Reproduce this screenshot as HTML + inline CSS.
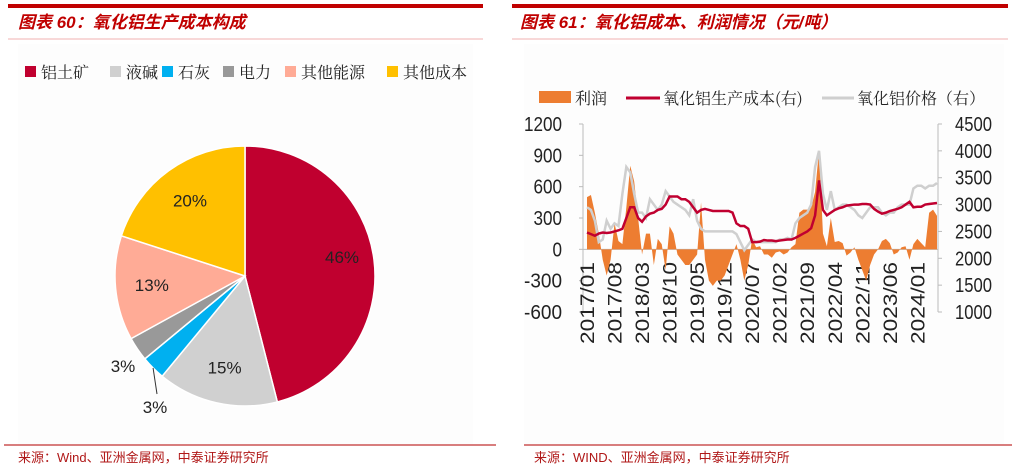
<!DOCTYPE html>
<html><head><meta charset="utf-8">
<style>
body{margin:0;width:1016px;height:470px;background:#fff;overflow:hidden;font-family:"Liberation Sans","Noto Sans CJK SC",sans-serif;}
svg{position:absolute;left:0;top:0}
</style></head>
<body>
<svg width="1016" height="470" viewBox="0 0 1016 470">
  <rect x="8" y="4" width="475" height="4" fill="#c00000"/>
  <rect x="512" y="4" width="496" height="4" fill="#c00000"/>
  <text x="18" y="28" font-size="17" font-weight="bold" font-style="italic" fill="#c00000" font-family="Liberation Sans,Noto Sans CJK SC,sans-serif">图表 60：氧化铝生产成本构成</text>
  <text x="520" y="28" font-size="17" font-weight="bold" font-style="italic" fill="#c00000" font-family="Liberation Sans,Noto Sans CJK SC,sans-serif">图表 61：氧化铝成本、利润情况（元/吨）</text>
  <line x1="8" y1="39" x2="483" y2="39" stroke="#f0b0b0" stroke-width="1"/>
  <line x1="512" y1="39" x2="1008" y2="39" stroke="#f0b0b0" stroke-width="1"/>
  <rect x="18" y="44" width="455" height="400" fill="#fdfdfd"/>
  <rect x="524" y="44" width="480" height="400" fill="#fdfdfd"/>
  <line x1="4" y1="445" x2="496" y2="445" stroke="#c03030" stroke-width="1.2"/>
  <line x1="524" y1="445" x2="1012" y2="445" stroke="#c03030" stroke-width="1.2"/>
  <text x="18" y="462" font-size="13" fill="#b01818">来源：Wind、亚洲金属网，中泰证券研究所</text>
  <text x="534" y="462" font-size="13" fill="#b01818">来源：WIND、亚洲金属网，中泰证券研究所</text>
  <g id="pie"></g>
  <g id="pieLegend"></g>
  <g id="line"></g>
</svg>
<script>
const NS="http://www.w3.org/2000/svg";
function mk(p,t,a,txt){const e=document.createElementNS(NS,t);for(const k in a)e.setAttribute(k,a[k]);if(txt!==undefined)e.textContent=txt;p.appendChild(e);return e;}

const pieLabels=["铝土矿","液碱","石灰","电力","其他能源","其他成本"];
const pieValues=[46,15,3,3,13,20];
const pieColors=["#c0002f","#d0d0d0","#00b0f0","#999999","#ffab96","#ffc000"];

const pie=document.getElementById('pie');
const cx=245,cy=276,R=130;
const total=pieValues.reduce((a,b)=>a+b,0);
let ang=-Math.PI/2;
pieValues.forEach((v,i)=>{
  const a2=ang+v/total*2*Math.PI;
  const x1=cx+R*Math.cos(ang),y1=cy+R*Math.sin(ang),x2=cx+R*Math.cos(a2),y2=cy+R*Math.sin(a2);
  const large=(a2-ang)>Math.PI?1:0;
  const s=mk(pie,'path',{d:`M${cx},${cy}L${x1},${y1}A${R},${R} 0 ${large} 1 ${x2},${y2}Z`,fill:pieColors[i],stroke:'#fff','stroke-width':1.5});
  
  
  const mid=(ang+a2)/2;
  let lx,ly;
  if(i===2){lx=155;ly=407;mk(pie,'line',{x1:cx+R*Math.cos(mid),y1:cy+R*Math.sin(mid),x2:157,y2:394,stroke:'#333','stroke-width':1});}
  else if(i===3){lx=123;ly=366;}
  else if(i===0){lx=342;ly=257;}
  else{const r=R*0.72;lx=cx+r*Math.cos(mid);ly=cy+r*Math.sin(mid);}
  const t=mk(pie,'text',{x:lx,y:ly+6,'font-size':17,'text-anchor':'middle',fill:'#222'},v+'%');
  
  
  ang=a2;
});
const pl=document.getElementById('pieLegend');
const legX=[25,110,162,223,285,387];
pieLabels.forEach((l,i)=>{
  const r=mk(pl,'rect',{x:legX[i],y:66,width:11,height:11,fill:pieColors[i]});
  
  
  const t=mk(pl,'text',{x:legX[i]+16,y:78,'font-size':16,fill:'#222','font-family':'Noto Serif CJK SC,serif'},l);
  
  
});

const profit=[500,520,350,150,-100,-250,-100,250,80,50,
400,800,650,300,-50,150,150,-150,100,50,
-200,220,150,-50,-100,-150,-150,-100,-50,450,
-100,-300,-350,-300,-300,-250,-150,-50,50,-100,
-300,-150,100,20,30,-50,-50,-80,-30,-20,
-50,-30,20,50,350,380,380,400,550,950,
150,30,300,70,80,60,-60,-30,20,-100,
-200,-300,-150,-50,0,80,100,60,-50,-30,
20,30,-100,50,100,60,20,350,380,320];
const cost=[2480,2450,2420,2460,2480,2470,2480,2500,2520,2550,
2750,2950,2950,2750,2680,2780,2830,2850,2900,2920,
3000,3150,3150,3150,3100,3100,3050,2950,2850,2900,
2920,2900,2880,2880,2880,2880,2880,2850,2650,2600,
2600,2550,2300,2300,2310,2340,2330,2330,2320,2330,
2340,2350,2350,2380,2420,2460,2500,2560,2800,3450,
2900,2800,2850,2900,2930,2950,2980,2990,3000,3000,
3010,3010,3000,2920,2870,2830,2850,2880,2900,2920,
2950,3000,3050,2950,2960,2960,3000,3010,3020,3030];
const price=[2950,2900,2700,2300,2350,2700,2550,2650,2600,3200,
3700,3600,3200,2850,2850,2750,3100,3000,2900,3000,
3250,3150,3050,3000,2950,2900,2800,3100,2700,2550,
2500,2500,2500,2500,2500,2500,2500,2500,2450,2300,
2150,2250,2350,2300,2300,2300,2300,2300,2300,2350,
2350,2380,2350,2650,2750,2800,2850,3000,3700,4000,
3200,2900,3250,2900,2950,3000,3000,2950,2900,2800,
2750,2850,2950,2950,2950,2850,2800,2850,2850,2950,
3000,3000,3000,3300,3350,3350,3300,3350,3350,3400];
const leftTicks=[1200,900,600,300,0,-300,-600];
const rightTicks=[4500,4000,3500,3000,2500,2000,1500,1000];
const xLabels=["2017/01","2017/08","2018/03","2018/10","2019/05","2019/12","2020/07","2021/02","2021/09","2022/04","2022/11","2023/06","2024/01"];
const xLabelIdx=[0,7,14,21,28,35,42,49,56,63,70,77,84];

const g=document.getElementById('line');
const X0=587,X1=937,Y0=124,Y1=312;
const xs=i=>X0+i*(X1-X0)/(profit.length-1);
const yl=v=>Y0+(1200-v)/(1800)*(Y1-Y0);
const yr=v=>Y0+(4500-v)/(3500)*(Y1-Y0);

const ax=mk(g,'line',{x1:583,y1:Y0,x2:583,y2:Y1,stroke:'#bbb','stroke-width':1});

const ax2=mk(g,'line',{x1:938,y1:Y0,x2:938,y2:Y1,stroke:'#bbb','stroke-width':1});

const zl=mk(g,'line',{x1:583,y1:yl(0),x2:938,y2:yl(0),stroke:'#bbb','stroke-width':1});

leftTicks.forEach(v=>{
  mk(g,'line',{x1:579,y1:yl(v),x2:583,y2:yl(v),stroke:'#bbb'});
  const s=String(v);
  const t=mk(g,'text',{x:562,y:yl(v)+7,'font-size':20,'text-anchor':'end',fill:'#222',textLength:s.length*9.5,lengthAdjust:'spacingAndGlyphs'},s);
  
});
rightTicks.forEach(v=>{
  mk(g,'line',{x1:938,y1:yr(v),x2:942,y2:yr(v),stroke:'#bbb'});
  const t=mk(g,'text',{x:955,y:yr(v)+7,'font-size':20,fill:'#222',textLength:37,lengthAdjust:'spacingAndGlyphs'},v);
  
});
xLabels.forEach((l,k)=>{
  const x=xs(xLabelIdx[k]);
  const t=mk(g,'text',{x:0,y:0,'font-size':19,'text-anchor':'end',fill:'#222',textLength:82,lengthAdjust:'spacingAndGlyphs',transform:`translate(${x+7},${262}) rotate(-90)`},l);
  
});

let d=`M${xs(0)},${yl(0)}`;
profit.forEach((v,i)=>{d+=`L${xs(i)},${yl(v)}`;});
d+=`L${xs(profit.length-1)},${yl(0)}Z`;
const ar=mk(g,'path',{d:d,fill:'#ed7d31'});

const pp=mk(g,'path',{d:price.map((v,i)=>(i?'L':'M')+xs(i)+','+yr(v)).join(''),fill:'none',stroke:'#cfcfcf','stroke-width':2.5});

const cp=mk(g,'path',{d:cost.map((v,i)=>(i?'L':'M')+xs(i)+','+yr(v)).join(''),fill:'none',stroke:'#c00030','stroke-width':2.5});


const lg=mk(g,'g',{});

const r1=mk(lg,'rect',{x:539,y:91,width:32,height:12,fill:'#ed7d31'});

const t1=mk(lg,'text',{x:575,y:104,'font-size':16,fill:'#222','font-family':'Noto Serif CJK SC,serif'},'利润');

const l2=mk(lg,'line',{x1:626,y1:98,x2:660,y2:98,stroke:'#c00030','stroke-width':3});

const t2=mk(lg,'text',{x:663,y:104,'font-size':16,fill:'#222','font-family':'Noto Serif CJK SC,serif'},'氧化铝生产成本(右)');

const l3=mk(lg,'line',{x1:822,y1:98,x2:854,y2:98,stroke:'#cfcfcf','stroke-width':3});

const t3=mk(lg,'text',{x:857,y:104,'font-size':16,fill:'#222','font-family':'Noto Serif CJK SC,serif'},'氧化铝价格（右）');

</script>
</body></html>
